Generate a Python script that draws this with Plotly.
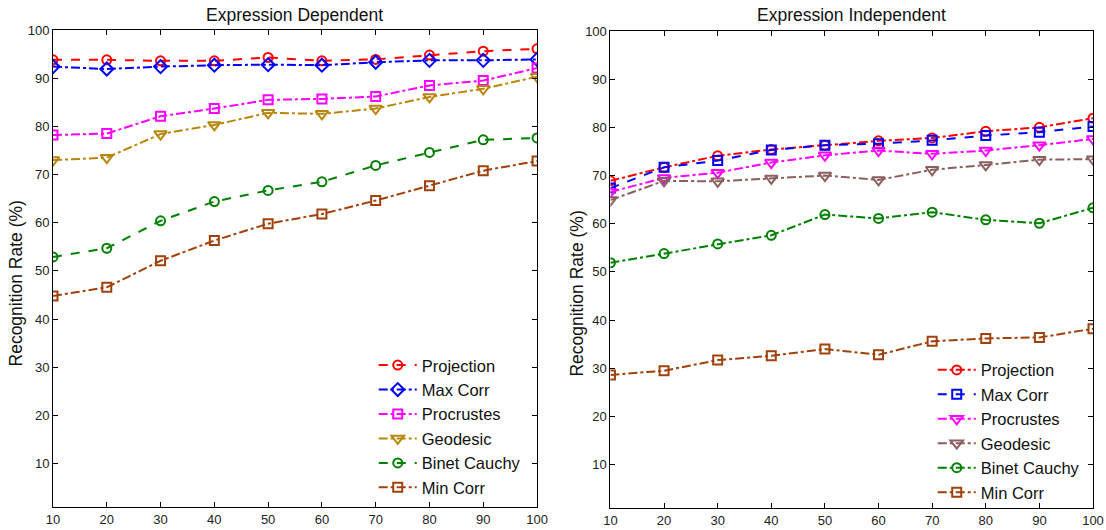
import plotly.graph_objects as go

x_vals = [10, 20, 30, 40, 50, 60, 70, 80, 90, 100]
series_names = ["Projection", "Max Corr", "Procrustes", "Geodesic", "Binet Cauchy", "Min Corr"]

# Expression Dependent (left)
dep_projection = [93.8, 93.8, 93.6, 93.6, 94.3, 93.6, 93.9, 94.8, 95.6, 96.1]
dep_maxcorr = [92.4, 91.9, 92.4, 92.7, 92.8, 92.7, 93.3, 93.7, 93.7, 93.9]
dep_procrustes = [78.2, 78.5, 82.1, 83.7, 85.5, 85.7, 86.2, 88.5, 89.5, 92.1]
dep_geodesic = [73.0, 73.5, 78.4, 80.3, 82.8, 82.6, 83.7, 86.1, 87.8, 90.3]
dep_binet = [52.9, 54.7, 60.4, 64.4, 66.7, 68.5, 71.9, 74.6, 77.2, 77.6]
dep_mincorr = [44.8, 46.6, 52.1, 56.3, 59.8, 61.8, 64.6, 67.7, 70.8, 72.8]

# Expression Independent (right)
ind_projection = [68.9, 71.7, 74.1, 75.4, 76.3, 77.2, 77.8, 79.2, 80.0, 81.9]
ind_maxcorr = [67.4, 71.7, 73.1, 75.3, 76.3, 76.6, 77.3, 78.3, 79.0, 80.2]
ind_procrustes = [66.6, 69.5, 70.6, 72.7, 74.2, 75.2, 74.5, 75.2, 76.3, 77.6]
ind_geodesic = [64.9, 68.9, 68.8, 69.4, 70.0, 69.1, 71.2, 72.2, 73.3, 73.4]
ind_binet = [51.9, 53.8, 55.8, 57.6, 61.9, 61.1, 62.4, 60.8, 60.1, 63.3]
ind_mincorr = [28.6, 29.5, 31.7, 32.6, 34.0, 32.8, 35.6, 36.2, 36.4, 38.2]

y_ticks = [10, 20, 30, 40, 50, 60, 70, 80, 90, 100]
x_ticks = [10, 20, 30, 40, 50, 60, 70, 80, 90, 100]

left_data = [dep_projection, dep_maxcorr, dep_procrustes, dep_geodesic, dep_binet, dep_mincorr]
left_colors = ["#FF0000", "#0000FF", "#FF00FF", "#B8860B", "#008000", "#A0400A"]
left_dash = ["dash", "dashdot", "dashdot", "dashdot", "dash", "dashdot"]
left_sym = ["circle-open", "diamond-open", "square-open", "triangle-down-open", "circle-open", "square-open"]
left_size = [9, 10, 9, 11, 9, 9]

right_data = [ind_projection, ind_maxcorr, ind_procrustes, ind_geodesic, ind_binet, ind_mincorr]
right_colors = ["#FF0000", "#0000FF", "#FF00FF", "#8C5F5F", "#008000", "#A0400A"]
right_dash = ["dashdot", "dash", "dashdot", "dashdot", "dashdot", "dashdot"]
right_sym = ["circle-open", "square-open", "triangle-down-open", "triangle-down-open", "circle-open", "square-open"]
right_size = [9, 9, 11, 11, 9, 9]

fig = go.Figure()
for i, name in enumerate(series_names):
    fig.add_trace(go.Scatter(
        x=x_vals, y=left_data[i], name=name, mode="lines+markers",
        line=dict(color=left_colors[i], width=2, dash=left_dash[i]),
        marker=dict(symbol=left_sym[i], size=left_size[i], color=left_colors[i],
                    line=dict(width=2, color=left_colors[i])),
        xaxis="x", yaxis="y", legend="legend",
    ))
for i, name in enumerate(series_names):
    fig.add_trace(go.Scatter(
        x=x_vals, y=right_data[i], name=name, mode="lines+markers",
        line=dict(color=right_colors[i], width=2, dash=right_dash[i]),
        marker=dict(symbol=right_sym[i], size=right_size[i], color=right_colors[i],
                    line=dict(width=2, color=right_colors[i])),
        xaxis="x2", yaxis="y2", legend="legend2",
    ))

font_family = "Liberation Sans, Arial, sans-serif"
axis_common = dict(
    showline=True, mirror="ticks", linecolor="black", linewidth=1,
    ticks="inside", ticklen=5, tickcolor="black", showgrid=False, zeroline=False,
    automargin=False,
    tickfont=dict(family=font_family, size=13, color="#222"),
)
title_font = dict(size=17.5, family=font_family, color="#111")
legend_font = dict(size=16.5, family=font_family, color="#111")
fig.update_layout(
    width=1106, height=530,
    margin=dict(l=53.3, r=12.7, t=30, b=21.7, autoexpand=False),
    paper_bgcolor="white", plot_bgcolor="white",
    font=dict(family=font_family, color="#111"),
    xaxis=dict(domain=[0.0, 0.4654], range=[10, 100], tickvals=x_ticks, anchor="y", **axis_common),
    yaxis=dict(domain=[0.0021, 1.0], range=[1, 100], tickvals=y_ticks, anchor="x", **axis_common),
    xaxis2=dict(domain=[0.536, 1.0], range=[10, 100], tickvals=x_ticks, anchor="y2", **axis_common),
    yaxis2=dict(domain=[0.0, 0.9979], range=[1, 100], tickvals=y_ticks, anchor="x2", **axis_common),
    legend=dict(x=0.3084, y=0.335, xanchor="left", yanchor="top", bgcolor="rgba(0,0,0,0)",
                font=legend_font, itemwidth=38, tracegroupgap=0),
    legend2=dict(x=0.8459, y=0.325, xanchor="left", yanchor="top", bgcolor="rgba(0,0,0,0)",
                 font=legend_font, itemwidth=38, tracegroupgap=0),
    annotations=[
        dict(text="Expression Dependent", x=0.2324, y=1.0314, xref="paper", yref="paper",
             xanchor="center", yanchor="middle", showarrow=False, font=title_font),
        dict(text="Expression Independent", x=0.768, y=1.0314, xref="paper", yref="paper",
             xanchor="center", yanchor="middle", showarrow=False, font=title_font),
        dict(text="Recognition Rate (%)", x=-0.0359, y=0.469, xref="paper", yref="paper",
             xanchor="center", yanchor="middle", textangle=-90, showarrow=False, font=title_font),
        dict(text="Recognition Rate (%)", x=0.5036, y=0.448, xref="paper", yref="paper",
             xanchor="center", yanchor="middle", textangle=-90, showarrow=False, font=title_font),
    ],
)
fig.write_html("out.html", config={"displayModeBar": False},
               post_script="document.body.style.margin='0';document.body.style.overflow='hidden';")
